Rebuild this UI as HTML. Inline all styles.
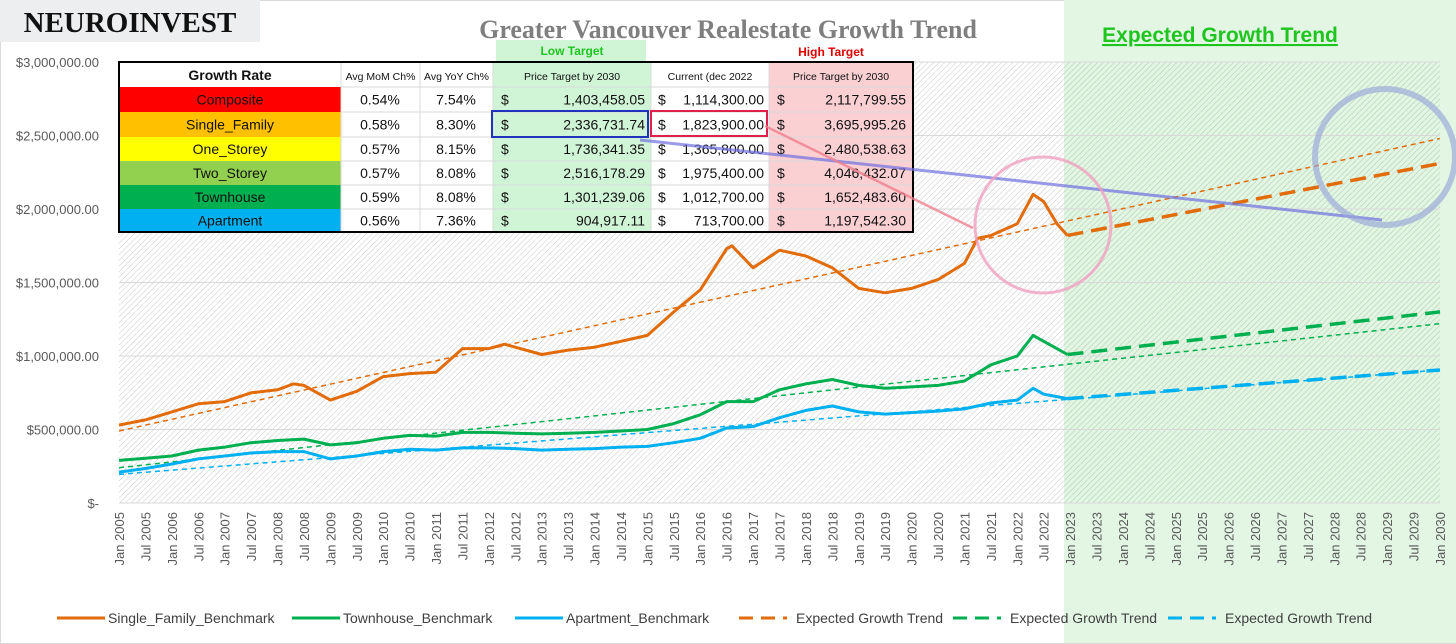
<!DOCTYPE html>
<html><head><meta charset="utf-8">
<style>
body{margin:0;background:#fff;width:1456px;height:644px;overflow:hidden;font-family:"Liberation Sans",sans-serif;}
svg{display:block}
</style></head>
<body>
<svg id="chart" width="1456" height="644" xmlns="http://www.w3.org/2000/svg">
<defs>
<pattern id="hatch" width="4" height="4" patternUnits="userSpaceOnUse" patternTransform="rotate(45)">
<line x1="0" y1="0" x2="0" y2="4" stroke="#c8c8c8" stroke-width="1"/>
</pattern>
<pattern id="hatchg" width="4" height="4" patternUnits="userSpaceOnUse" patternTransform="rotate(45)">
<line x1="0" y1="0" x2="0" y2="4" stroke="#b4d8b4" stroke-width="1"/>
</pattern>
</defs>
<rect x="0.5" y="0.5" width="1455" height="643" fill="#fff" stroke="#d9d9d9"/>
<rect x="1064" y="0" width="392" height="643" fill="#e2f6e3"/>
<rect x="119" y="62" width="1321" height="441" fill="url(#hatch)"/>
<rect x="1064" y="62" width="376" height="441" fill="url(#hatchg)"/>
<g id="grid"></g>
<g id="yaxis"></g>
<g id="xaxis"></g>
<g id="series"></g>
<rect x="0" y="0" width="260" height="42" fill="#eceef0"/>
<text x="130" y="32" text-anchor="middle" font-family="Liberation Serif,serif" font-weight="bold" font-size="29" fill="#111">NEUROINVEST</text>
<text x="728" y="38" text-anchor="middle" font-family="Liberation Serif,serif" font-weight="bold" font-size="26" fill="#7f7f7f">Greater Vancouver Realestate Growth Trend</text>
<text x="1220" y="42" text-anchor="middle" font-weight="bold" font-size="21" fill="#1fc51f" text-decoration="underline">Expected Growth Trend</text>
<g id="table"></g>
<g id="annot"></g>
<g id="legend"></g>
</svg>
<script>
const NS="http://www.w3.org/2000/svg";
function mk(tag,attrs,parent,txt){const e=document.createElementNS(NS,tag);for(const k in attrs)e.setAttribute(k,attrs[k]);if(txt!==undefined)e.textContent=txt;parent.appendChild(e);return e;}
// ---- data ----
const sfDates=[2005,2005.5,2006,2006.5,2007,2007.5,2008,2008.3,2008.5,2009,2009.5,2010,2010.5,2011,2011.5,2012,2012.3,2012.5,2013,2013.5,2014,2014.5,2015,2015.5,2016,2016.5,2016.6,2017,2017.5,2018,2018.5,2019,2019.5,2020,2020.5,2021,2021.25,2021.5,2022,2022.3,2022.5,2022.75,2022.95];
const sfValues=[530000,565000,620000,675000,690000,750000,770000,810000,800000,700000,760000,860000,880000,890000,1050000,1050000,1080000,1060000,1010000,1040000,1060000,1100000,1140000,1300000,1450000,1730000,1750000,1600000,1720000,1680000,1600000,1460000,1430000,1460000,1520000,1630000,1800000,1820000,1900000,2100000,2050000,1900000,1820000];
const thDates=[2005,2005.5,2006,2006.5,2007,2007.5,2008,2008.5,2009,2009.5,2010,2010.5,2011,2011.5,2012,2012.5,2013,2013.5,2014,2014.5,2015,2015.5,2016,2016.5,2017,2017.5,2018,2018.5,2019,2019.5,2020,2020.5,2021,2021.5,2022,2022.3,2022.5,2022.95];
const thValues=[290000,305000,320000,360000,380000,410000,425000,435000,395000,410000,440000,460000,455000,480000,480000,475000,470000,475000,480000,490000,500000,540000,600000,690000,690000,770000,810000,840000,800000,780000,790000,800000,830000,940000,1000000,1140000,1100000,1010000];
const apDates=thDates;
const apValues=[210000,235000,265000,300000,320000,340000,350000,350000,300000,320000,350000,365000,360000,375000,375000,370000,360000,365000,370000,380000,385000,410000,440000,510000,520000,580000,630000,660000,620000,605000,615000,625000,640000,680000,700000,780000,740000,710000];
const trendStart=[490000,240000,195000];
const trendEnd=[2480000,1220000,905000];
const fcStart=[1820000,1010000,710000];
const fcEnd=[2310000,1300000,905000];
const yTicks=[0,500000,1000000,1500000,2000000,2500000,3000000];
const yTickLabels=["$-","$500,000.00","$1,000,000.00","$1,500,000.00","$2,000,000.00","$2,500,000.00","$3,000,000.00"];
const xStart=2005, xEnd=2030;
const colors=["#e26b0a","#00b050","#00b0f0"];
// ---- axes ----
const X=t=>119+(t-xStart)/(xEnd-xStart)*1321;
const Y=v=>503-v/3000000*441;
const grid=document.getElementById('grid'),ya=document.getElementById('yaxis'),xa=document.getElementById('xaxis'),sr=document.getElementById('series');
yTicks.forEach((v,i)=>{
  if(v>0){const l=mk('line',{x1:119,x2:1440,y1:Y(v),y2:Y(v),stroke:'#d9d9d9','stroke-width':1},grid);
  
  }
  const t=mk('text',{x:99,y:Y(v)+5,'text-anchor':'end','font-size':13,fill:'#595959'},ya,yTickLabels[i]);
  
  
});
mk('line',{x1:119,x2:1440,y1:503,y2:503,stroke:'#d9d9d9'},xa);
for(let i=0;i<=50;i++){
  const yr=xStart+Math.floor(i/2),lab=(i%2?'Jul ':'Jan ')+yr;const x=X(xStart+i/2)+5;
  const t=mk('text',{x:x,y:512,'text-anchor':'end','font-size':13,fill:'#595959',transform:`rotate(-90 ${x} 512)`},xa,lab);
  
  
}
// ---- series ----
[[sfDates,sfValues],[thDates,thValues],[apDates,apValues]].forEach((s,k)=>{
  const p=s[0].map((d,i)=>`${X(d).toFixed(1)},${Y(s[1][i]).toFixed(1)}`).join(' ');
  const pl=mk('polyline',{points:p,fill:'none',stroke:colors[k],'stroke-width':3,'stroke-linejoin':'round'},sr);
  
  
  const tl=mk('line',{x1:X(xStart),y1:Y(trendStart[k]),x2:X(xEnd),y2:Y(trendEnd[k]),stroke:colors[k],'stroke-width':1.5,'stroke-dasharray':'5,4'},sr);
  
  
  const fl=mk('line',{x1:X(2022.95),y1:Y(fcStart[k]),x2:X(xEnd),y2:Y(fcEnd[k]),stroke:colors[k],'stroke-width':3.5,'stroke-dasharray':'16,8'},sr);
  
  
});
// ---- table ----
const tb=document.getElementById('table');
const cols=[119,341,420,493,651,769,913];
const rowY=[62,87,112,137,161,185,209,232];
const names=["Composite","Single_Family","One_Storey","Two_Storey","Townhouse","Apartment"];
const rowCol=["#ff0000","#ffc000","#ffff00","#92d050","#00b050","#00b0f0"];
const mom=["0.54%","0.58%","0.57%","0.57%","0.59%","0.56%"];
const yoy=["7.54%","8.30%","8.15%","8.08%","8.08%","7.36%"];
const low=["1,403,458.05","2,336,731.74","1,736,341.35","2,516,178.29","1,301,239.06","904,917.11"];
const cur=["1,114,300.00","1,823,900.00","1,365,800.00","1,975,400.00","1,012,700.00","713,700.00"];
const high=["2,117,799.55","3,695,995.26","2,480,538.63","4,046,432.07","1,652,483.60","1,197,542.30"];
mk('rect',{x:119,y:62,width:794,height:170,fill:'#fff'},tb);
mk('rect',{x:493,y:62,width:158,height:170,fill:'#d0f5d6'},tb);
mk('rect',{x:769,y:62,width:144,height:170,fill:'#fbd0d3'},tb);
mk('rect',{x:496,y:40,width:150,height:22,fill:'#d0f5d6'},tb);
mk('text',{x:572,y:55,'text-anchor':'middle','font-size':12,'font-weight':'bold',fill:'#1fc51f'},tb,'Low Target');
mk('text',{x:831,y:56,'text-anchor':'middle','font-size':12,'font-weight':'bold',fill:'#e00000'},tb,'High Target');
const hdr=["Growth Rate","Avg MoM Ch%","Avg YoY Ch%","Price Target by 2030","Current (dec 2022","Price Target by 2030"];
hdr.forEach((h,i)=>{mk('text',{x:(cols[i]+cols[i+1])/2,y:80,'text-anchor':'middle','font-size':i==0?14:10.5,'font-weight':i==0?'bold':'normal',fill:'#111'},tb,h);});
names.forEach((n,r)=>{
  const y0=rowY[r+1],y1=rowY[r+2],cy=(y0+y1)/2+5;
  mk('rect',{x:119,y:y0,width:222,height:y1-y0,fill:rowCol[r]},tb);
  const t=mk('text',{x:230,y:cy,'text-anchor':'middle','font-size':14,fill:'#111'},tb,n);
  
  
  mk('text',{x:380,y:cy,'text-anchor':'middle','font-size':14,fill:'#111'},tb,mom[r]);
  mk('text',{x:456,y:cy,'text-anchor':'middle','font-size':14,fill:'#111'},tb,yoy[r]);
  mk('text',{x:501,y:cy,'font-size':14,fill:'#111'},tb,'$');
  mk('text',{x:645,y:cy,'text-anchor':'end','font-size':14,fill:'#111'},tb,low[r]);
  mk('text',{x:658,y:cy,'font-size':14,fill:'#111'},tb,'$');
  mk('text',{x:764,y:cy,'text-anchor':'end','font-size':14,fill:'#111'},tb,cur[r]);
  mk('text',{x:777,y:cy,'font-size':14,fill:'#111'},tb,'$');
  mk('text',{x:906,y:cy,'text-anchor':'end','font-size':14,fill:'#111'},tb,high[r]);
  mk('line',{x1:341,x2:913,y1:y0,y2:y0,stroke:'#d9d9d9'},tb);
});
cols.slice(1,-1).forEach(c=>mk('line',{x1:c,x2:c,y1:62,y2:232,stroke:'#d9d9d9'},tb));
mk('rect',{x:119,y:62,width:794,height:170,fill:'none',stroke:'#000','stroke-width':2},tb);
mk('rect',{x:492,y:111,width:156,height:26,fill:'none',stroke:'#2233bb','stroke-width':2},tb);
mk('rect',{x:651,y:111,width:116,height:25,fill:'none',stroke:'#e0204a','stroke-width':2},tb);


// ---- annotations ----
const an=document.getElementById('annot');
mk('line',{x1:640,y1:140,x2:1382,y2:220,stroke:'#7070e0','stroke-width':3,opacity:0.7},an);
mk('line',{x1:765,y1:126,x2:973,y2:228,stroke:'#f08090','stroke-width':2.5,opacity:0.8},an);
mk('ellipse',{cx:1043,cy:225,rx:68,ry:68,fill:'none',stroke:'#f0a0c0','stroke-width':3,opacity:0.8},an);
mk('ellipse',{cx:1385,cy:157,rx:70,ry:68,fill:'none',stroke:'#9aa6d8','stroke-width':6,opacity:0.65},an);
// ---- legend ----
const lg=document.getElementById('legend');
const leg=[["Single_Family_Benchmark",0,false,57],["Townhouse_Benchmark",1,false,292],["Apartment_Benchmark",2,false,515],["Expected Growth Trend",0,true,739],["Expected Growth Trend",1,true,953],["Expected Growth Trend",2,true,1168]];
leg.forEach(l=>{
  const g=mk('g',{},lg);
  
  
  mk('line',{x1:l[3],x2:l[3]+48,y1:618,y2:618,stroke:colors[l[1]],'stroke-width':3,'stroke-dasharray':l[2]?'14,8':'none'},g);
  mk('text',{x:l[3]+(l[2]?57:51),y:623,'font-size':14,fill:'#404040'},g,l[0]);
});
</script>
</body></html>
